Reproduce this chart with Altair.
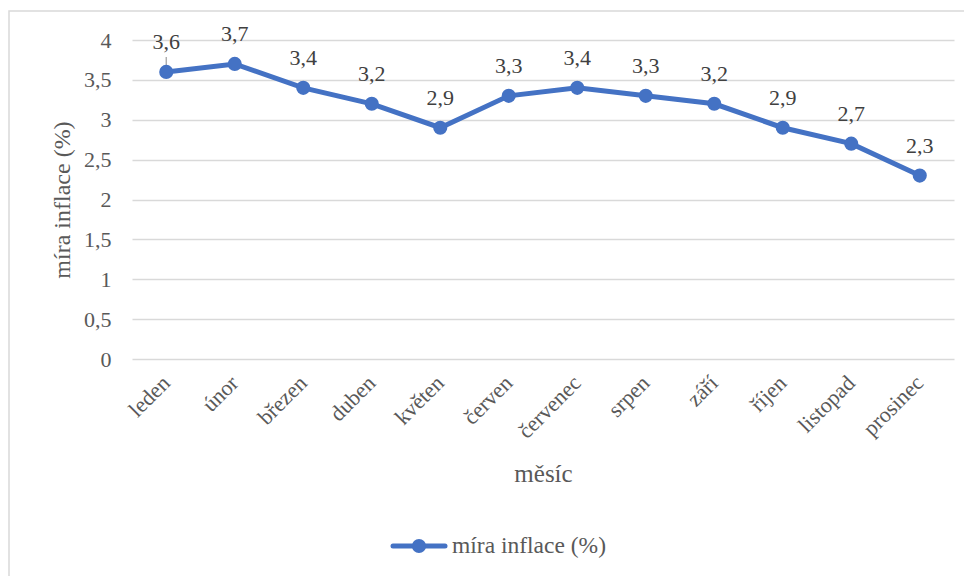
import altair as alt
import pandas as pd

months = ["leden", "únor", "březen", "duben", "květen", "červen",
          "červenec", "srpen", "září", "říjen", "listopad", "prosinec"]
values = [3.6, 3.7, 3.4, 3.2, 2.9, 3.3, 3.4, 3.3, 3.2, 2.9, 2.7, 2.3]
y_ticks = [0, 0.5, 1, 1.5, 2, 2.5, 3, 3.5, 4]
series_name = "míra inflace (%)"

df = pd.DataFrame({"mesic": months, "hodnota": values})

FONT = "Liberation Serif"
BLUE = "#4472C4"
GRAY = "#595959"

x_enc = alt.X("mesic:N", sort=months, title="měsíc",
              scale=alt.Scale(paddingInner=0, paddingOuter=0),
              axis=alt.Axis(labelAngle=315, labelAlign="right", labelBaseline="middle",
                            labelFont=FONT, labelFontSize=22, labelColor=GRAY,
                            titleFont=FONT, titleFontSize=25, titleColor=GRAY,
                            titleFontWeight="normal", titlePadding=19,
                            labelPadding=20, ticks=False, domain=False, grid=False,
                            labelOverlap=False))
y_enc = alt.Y("hodnota:Q", title="míra inflace (%)",
              scale=alt.Scale(domain=[0, 4], nice=False),
              axis=alt.Axis(values=y_ticks,
                            labelExpr="replace(toString(datum.value), '.', ',')",
                            labelFont=FONT, labelFontSize=22, labelColor=GRAY,
                            titleFont=FONT, titleFontSize=24, titleColor=GRAY,
                            titleFontWeight="normal", titlePadding=9,
                            labelPadding=21, ticks=False, domain=False,
                            grid=True, gridColor="#d9d9d9", gridWidth=1.5))

base = alt.Chart(df).encode(x=x_enc, y=y_enc)

line = base.mark_line(color=BLUE, strokeWidth=5)
points = base.mark_circle(color=BLUE, size=200, opacity=1)
labels = base.transform_calculate(
    lab="replace(format(datum.hodnota, '.1f'), '.', ',')"
).mark_text(font=FONT, fontSize=22, color="#404040", dy=-30, baseline="middle").encode(
    text="lab:N")

leader = alt.Chart(df.head(1)).mark_rule(color="#a6a6a6", strokeWidth=1.3,
                                        yOffset=-6, y2Offset=-15).encode(
    x=x_enc, y=y_enc, y2="hodnota:Q")

frame = alt.Chart(df.head(1)).mark_rect(fill=None, stroke="#d9d9d9", strokeWidth=1.5).encode(
    x=alt.value(-123), x2=alt.value(850), y=alt.value(-29), y2=alt.value(600))

leg_line = alt.Chart(df.head(1)).mark_rule(color=BLUE, strokeWidth=5, strokeCap="round").encode(
    x=alt.value(261), x2=alt.value(313), y=alt.value(506))
leg_pt = alt.Chart(df.head(1)).mark_circle(color=BLUE, size=200, opacity=1).encode(
    x=alt.value(287), y=alt.value(506))
leg_txt = alt.Chart(df.head(1)).mark_text(font=FONT, fontSize=23.5, color=GRAY,
                                          align="left", baseline="middle").encode(
    x=alt.value(320), y=alt.value(506), text=alt.value(series_name))

chart = alt.layer(line, leader, points, labels, frame, leg_line, leg_pt, leg_txt).properties(
    width=822, height=319,
    autosize=alt.AutoSizeParams(type="none"),
    padding={"left": 124, "top": 32, "right": 10, "bottom": 217},
).configure_view(stroke=None)

chart.save("out.html", embed_options={"renderer": "svg", "actions": False})
